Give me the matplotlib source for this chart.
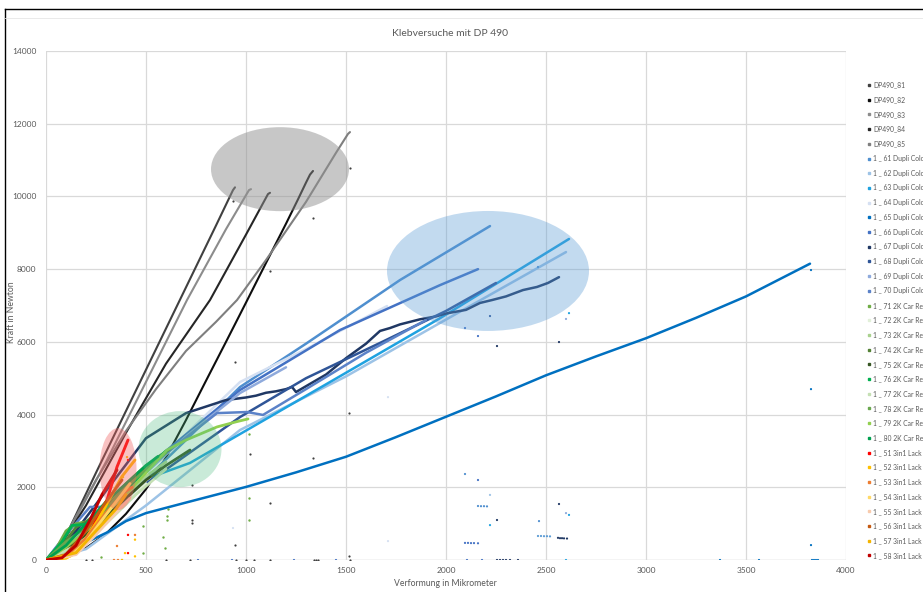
import matplotlib
matplotlib.use("Agg")
import matplotlib.pyplot as plt
from matplotlib.patches import Ellipse
from matplotlib.lines import Line2D

plt.rcParams["font.family"] = ["Lato", "DejaVu Sans"]

# ---- data (x in Mikrometer, y in Newton) ----
dp_labels = ["DP490_81", "DP490_82", "DP490_83", "DP490_84", "DP490_85"]
dp_colors = ["#404040", "#0d0d0d", "#8c8c8c", "#262626", "#7f7f7f"]
dp_x = [
    [0, 40, 120, 250, 400, 550, 700, 850, 935, 945],
    [0, 100, 200, 300, 400, 500, 600, 700, 800, 900, 1000, 1100, 1200, 1260, 1300, 1320, 1335],
    [0, 50, 150, 300, 500, 705, 900, 1015, 1025],
    [0, 60, 200, 400, 600, 820, 1000, 1110, 1120],
    [0, 100, 250, 400, 550, 700, 850, 955, 1100, 1300, 1450, 1510, 1520],
]
dp_y = [
    [0, 200, 900, 2400, 4100, 5800, 7500, 9200, 10175, 10250],
    [0, 100, 330, 720, 1270, 1950, 2820, 3850, 4930, 6000, 7080, 8170, 9250, 9920, 10380, 10600,
     10700],
    [0, 250, 1150, 2700, 4900, 7150, 9100, 10175, 10200],
    [0, 300, 1500, 3500, 5400, 7150, 8950, 10065, 10100],
    [0, 700, 2200, 3550, 4700, 5750, 6550, 7150, 8250, 9850, 11200, 11720, 11770],
]

blue_labels = ["1 _ 61 Dupli Colo", "1 _ 62 Dupli Colo", "1 _ 63 Dupli Colo",
               "1 _ 64 Dupli Colo", "1 _ 65 Dupli Colo", "1 _ 66 Dupli Colo",
               "1 _ 67 Dupli Colo", "1 _ 68 Dupli Colo", "1 _ 69 Dupli Colo",
               "1 _ 70 Dupli Colo"]
blue_colors = ["#4f8fcf", "#9dc3e6", "#1fa2e0", "#d5e0f2", "#0070c0", "#4472c4",
               "#203864", "#2f5597", "#8faadc", "#5b82c8"]
blue_x = [
    [0, 150, 400, 700, 970, 1300, 1770, 2220],
    [0, 200, 500, 970, 1500, 1970, 2600],
    [0, 200, 400, 555, 720, 1005, 1500, 1970, 2615],
    [0, 200, 500, 970, 1300, 1705],
    [0, 150, 310, 400, 500, 700, 1000, 1250, 1500, 1750, 2000, 2250, 2500, 2750, 3000, 3250,
     3500, 3820],
    [0, 300, 600, 970, 1470, 1970, 2160],
    [0, 150, 300, 500, 700, 900, 1000, 1050, 1100, 1150, 1200, 1230, 1250, 1300, 1400, 1500,
     1600, 1670, 1720, 1770, 1870, 1950, 2000, 2100, 2170, 2230, 2300, 2385, 2455, 2510, 2565],
    [0, 200, 500, 970, 1300, 1670, 2000, 2250],
    [0, 150, 400, 700, 970, 1200],
    [0, 100, 220, 285, 500, 855, 1005, 1085, 1300, 1600, 1900],
]
blue_y = [
    [0, 500, 1700, 3300, 4757, 5950, 7700, 9185],
    [0, 300, 1500, 3575, 5050, 6520, 8470],
    [0, 600, 1600, 2340, 2670, 3575, 5150, 6650, 8830],
    [0, 700, 2400, 4895, 5800, 6985],
    [0, 350, 770, 1070, 1290, 1580, 2010, 2410, 2840, 3380, 3940, 4500, 5080, 5600, 6100, 6660,
     7250, 8150],
    [0, 1500, 3000, 4675, 6325, 7560, 8000],
    [0, 800, 1900, 3350, 4040, 4400, 4470, 4520, 4600, 4640, 4700, 4760, 4620, 4780, 5100, 5550,
     5950, 6300, 6380, 6480, 6620, 6700, 6780, 6880, 7070, 7150, 7250, 7425, 7510, 7620, 7780],
    [0, 700, 2100, 3932, 5000, 5970, 6850, 7620],
    [0, 600, 1900, 3400, 4592, 5300],
    [0, 700, 1460, 1460, 2500, 4040, 4070, 3990, 4700, 5700, 6600],
]

green_labels = ["1 _ 71 2K Car Re", "1 _ 72 2K Car Re", "1 _ 73 2K Car Re",
                "1 _ 74 2K Car Re", "1 _ 75 2K Car Re", "1 _ 76 2K Car Re",
                "1 _ 77 2K Car Re", "1 _ 78 2K Car Re", "1 _ 79 2K Car Re",
                "1 _ 80 2K Car Re"]
green_colors = ["#70ad47", "#e2f0d9", "#a9d18e", "#548235", "#375623", "#00b050",
                "#c5e0b4", "#6aa84f", "#92d050", "#00a050"]
green_x = [
    [0, 50, 100, 150, 200, 300, 400, 500, 600],
    [0, 100, 200, 300, 400, 500],
    [0, 100, 200, 300, 400, 500, 600],
    [0, 80, 150, 250, 350, 450, 550, 620],
    [0, 100, 200, 300, 400, 500, 600, 720],
    [0, 80, 130, 230, 300, 400, 500, 600],
    [0, 150, 300, 450, 600],
    [0, 100, 200, 300, 400, 500, 590],
    [0, 100, 200, 300, 400, 500, 605, 700, 855, 950, 1010],
    [0, 100, 200, 300, 400, 500, 560],
]
green_y = [
    [0, 300, 800, 1000, 1050, 1500, 2100, 2600, 2950],
    [0, 200, 600, 1100, 1600, 2100],
    [0, 250, 700, 1200, 1800, 2300, 2700],
    [0, 400, 900, 1200, 1700, 2300, 2800, 3050],
    [0, 300, 700, 1200, 1700, 2200, 2600, 3025],
    [0, 500, 950, 1000, 1350, 1900, 2500, 3000],
    [0, 400, 1000, 1800, 2500],
    [0, 500, 900, 1400, 2000, 2500, 2900],
    [0, 350, 800, 1300, 1800, 2400, 3025, 3300, 3660, 3800, 3880],
    [0, 400, 1000, 1600, 2100, 2600, 2850],
]

red_labels = ["1 _ 51 3in1 Lack", "1 _ 52 3in1 Lack", "1 _ 53 3in1 Lack", "1 _ 54 3in1 Lack",
              "1 _ 55 3in1 Lack", "1 _ 56 3in1 Lack", "1 _ 57 3in1 Lack", "1 _ 58 3in1 Lack"]
red_colors = ["#ff0000", "#ffc000", "#ed7d31", "#ffd966", "#f8cbad", "#c55a11", "#f4b400",
              "#c00000"]
red_x = [
    [0, 80, 135, 180, 220, 260, 305, 330, 355, 410],
    [0, 100, 150, 200, 260, 320, 380, 445],
    [0, 100, 200, 300, 400, 430],
    [0, 120, 200, 280, 350, 420],
    [0, 150, 250, 350, 420],
    [0, 100, 200, 300, 380],
    [0, 150, 250, 350, 400],
    [0, 80, 150, 220, 280, 355],
]
red_y = [
    [0, 50, 190, 400, 740, 1200, 1650, 2100, 2560, 3300],
    [0, 50, 200, 600, 1100, 1700, 2300, 2750],
    [0, 100, 600, 1300, 1900, 2000],
    [0, 100, 500, 1100, 1600, 2100],
    [0, 150, 700, 1300, 1700],
    [0, 150, 800, 1600, 2200],
    [0, 200, 800, 1400, 1800],
    [0, 60, 400, 1100, 1800, 2475],
]

# stray single measurement points
dp_dots_x = [1520, 935, 1335, 1120, 945, 1020, 1335, 1515, 1120, 945, 730, 730, 730, 1515,
             200, 230, 600, 720, 950, 1000, 1040, 1120, 1340, 1350, 1360, 1520]
dp_dots_y = [10780, 9870, 9400, 7950, 5445, 2915, 2800, 4040, 1570, 410, 2070, 1100, 1020, 110,
             0, 0, 0, 0, 0, 0, 0, 0, 0, 0, 0, 0]
blue_dots_x = [2095, 2160, 2220, 2220, 2255, 2465, 2565, 2600, 2615, 3825, 3825, 3825,
               2615, 2600, 2460, 2220, 2095, 2160, 2255, 2565,
               2095, 2110, 2125, 2140, 2160, 2160, 2175, 2190, 2205,
               2460, 2475, 2490, 2505, 2520, 2560, 2570, 2580, 2590, 2605,
               2255, 2270, 2285, 2300, 2320, 2105, 2180, 2360, 2600, 3370, 3565,
               3830, 3840, 3850, 3860, 1710, 1710, 935, 380, 760, 930, 1240, 1450]
blue_dots_y = [2365, 2200, 1790, 960, 1100, 1070, 1540, 1290, 1240, 4700, 410, 7975,
               6790, 6630, 8060, 6710, 6380, 6160, 5885, 5995,
               470, 470, 465, 465, 460, 1485, 1480, 1480, 1475,
               660, 660, 655, 655, 650, 610, 600, 600, 595, 590,
               0, 0, 0, 0, 0, 0, 0, 0, 0, 0, 0,
               0, 0, 0, 0, 4480, 520, 880, 0, 0, 0, 0, 0]
blue_dot_colors = (["#4f8fcf", "#4472c4", "#9dc3e6", "#1fa2e0", "#203864", "#4f8fcf",
                    "#203864", "#8faadc", "#1fa2e0"] + ["#0070c0"] * 3 +
                   ["#1fa2e0", "#8faadc", "#4f8fcf", "#2f5597", "#4472c4", "#4472c4",
                    "#203864", "#203864"] +
                   ["#4472c4"] * 5 + ["#4f8fcf"] * 4 + ["#5b9bd5"] * 5 + ["#203864"] * 5 +
                   ["#203864"] * 5 + ["#4472c4", "#4472c4", "#203864", "#1fa2e0", "#0070c0",
                                      "#0070c0"] + ["#0070c0"] * 4 +
                   ["#d5e0f2"] * 3 + ["#4472c4"] * 5)
green_dots_x = [1015, 1015, 1015, 605, 605, 585, 595, 485, 485, 275, 610]
green_dots_y = [3465, 1700, 1100, 1210, 1100, 630, 330, 935, 190, 80, 1400]
red_dots_x = [410, 445, 445, 410, 385, 355, 395, 410, 445, 340, 360, 380, 405]
red_dots_y = [690, 690, 560, 2750, 2280, 385, 190, 190, 100, 0, 0, 0, 2830]
red_dot_colors = ["#ff0000", "#ed7d31", "#ffc000", "#ff0000", "#ffc000", "#ed7d31", "#ffc000",
                  "#ff0000", "#ffc000", "#ed7d31", "#ed7d31", "#ffc000", "#ffc000"]

# highlight ellipses: centre x, centre y, width, height
ell_cx = [1170, 2210, 670, 360]
ell_cy = [10750, 7950, 3050, 2500]
ell_w = [690, 1010, 415, 185]
ell_h = [2310, 3300, 2090, 2255]
ell_colors = ["#919191", "#5b9bd5", "#4cbb7f", "#f06060"]
ell_alpha = [0.5, 0.37, 0.3, 0.38]

# ---- figure ----
W, H = 923, 592
fig = plt.figure(figsize=(W / 100, H / 100), dpi=100)
ax = fig.add_axes([46 / W, (H - 560) / H, 800 / W, 509 / H])
ax.set_xlim(0, 4000)
ax.set_ylim(0, 14000)
ax.set_xticks(range(0, 4001, 500))
ax.set_yticks(range(0, 14001, 2000))
ax.grid(True, color="#d9d9d9", linewidth=0.9)
ax.set_axisbelow(True)
for s in ax.spines.values():
    s.set_visible(False)
ax.axhline(0, color="#d0d0d0", linewidth=0.9, zorder=0.5)
ax.tick_params(length=0, labelsize=6, labelcolor="#595959")
ax.tick_params(axis="y", pad=7)
ax.tick_params(axis="x", pad=5)

groups = [
    (dp_x, dp_y, dp_colors, 1.5),
    (blue_x, blue_y, blue_colors, 1.8),
    (green_x, green_y, green_colors, 2.0),
    (red_x, red_y, red_colors, 2.1),
]
for xs, ys, cols, lw in groups:
    for x, y, c in zip(xs, ys, cols):
        ax.plot(x, y, color=c, lw=lw, solid_capstyle="round", solid_joinstyle="round", zorder=3)

ax.scatter(dp_dots_x, dp_dots_y, s=2.5, color="#404040", zorder=3, linewidths=0)
ax.scatter(blue_dots_x, blue_dots_y, s=2.5, color=blue_dot_colors, zorder=3, linewidths=0)
ax.scatter(green_dots_x, green_dots_y, s=3, color="#70ad47", zorder=3, linewidths=0)
ax.scatter(red_dots_x, red_dots_y, s=3, color=red_dot_colors, zorder=3, linewidths=0)

for cx, cy, w, h, c, a in zip(ell_cx, ell_cy, ell_w, ell_h, ell_colors, ell_alpha):
    ax.add_patch(Ellipse((cx, cy), w, h, facecolor=c, alpha=a, edgecolor="none", zorder=4))

# titles and axis labels
fig.text(450 / W, 1 - 33 / H, "Klebversuche mit DP 490", ha="center", va="center",
         fontsize=7.5, color="#595959")
fig.text(445 / W, 1 - 583 / H, "Verformung in Mikrometer", ha="center", va="center",
         fontsize=6.2, color="#595959")
fig.text(12 / W, 1 - 312 / H, "Kraft in Newton", ha="center", va="center", rotation=90,
         fontsize=6.2, color="#595959")

# legend (the original is cut off by the right edge; labels show the visible part)
all_labels = dp_labels + blue_labels + green_labels + red_labels
all_colors = dp_colors + blue_colors + green_colors + red_colors
for i, (lab, c) in enumerate(zip(all_labels, all_colors)):
    yy = 1 - (85 + i * 14.7) / H
    fig.add_artist(Line2D([869 / W], [yy], marker="s", markersize=1.6, color=c, linestyle="none"))
    fig.text(873 / W, yy, lab, ha="left", va="center", fontsize=4.9, color="#595959")

# spreadsheet frame around the chart
fig.add_artist(Line2D([5 / W, 1], [1 - 9 / H, 1 - 9 / H], color="black", lw=1.0))
fig.add_artist(Line2D([5 / W, 5 / W], [0, 1 - 9 / H], color="black", lw=1.0))
fig.add_artist(Line2D([5 / W, 1], [1 - 17.5 / H, 1 - 17.5 / H], color="#e6e6e6", lw=0.6))

fig.savefig("out.png", dpi=100)
